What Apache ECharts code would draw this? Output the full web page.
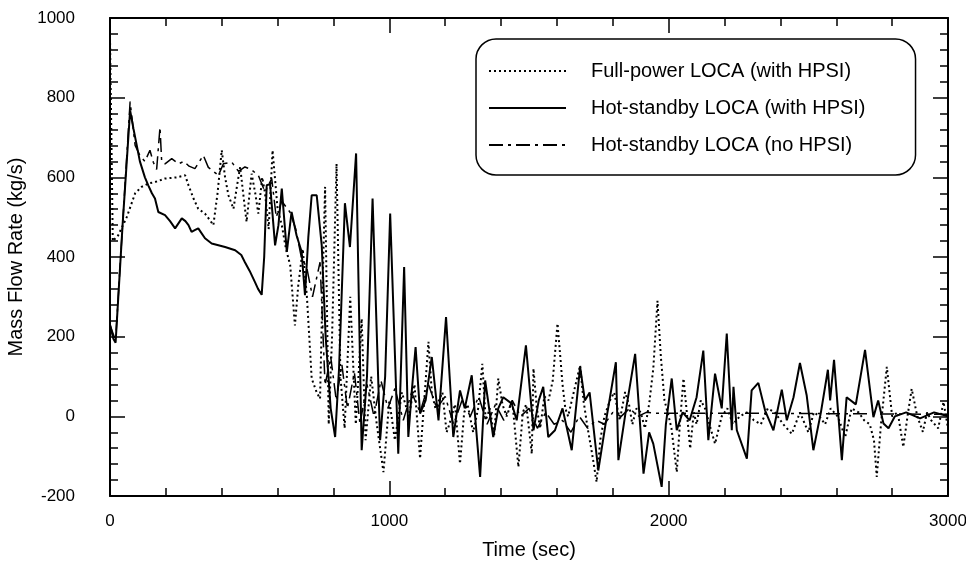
<!DOCTYPE html>
<html>
<head>
<meta charset="utf-8">
<script src="https://cdn.jsdelivr.net/npm/echarts@6/dist/echarts.min.js"></script>
<style>
  html, body { margin: 0; padding: 0; background: #fff; }
  #chart { width: 966px; height: 573px; }
</style>
</head>
<body>
<div id="chart"></div>
<script>
// series names
const seriesNames = [
  "Full-power LOCA (with HPSI)",
  "Hot-standby LOCA (with HPSI)",
  "Hot-standby LOCA (no HPSI)"
];

// [time (s), mass flow rate (kg/s)]
const fullPower = [
  [0, 950], [5, 700], [10, 440], [29, 454], [60, 500], [90, 560], [113, 576], [140, 585],
  [161, 588], [197, 597], [240, 600], [269, 605], [281, 580], [300, 545], [316, 521],
  [340, 509], [355, 495], [370, 480], [385, 560], [400, 668], [412, 600], [424, 555],
  [442, 521], [455, 580], [466, 626], [480, 540], [489, 488], [507, 609], [520, 560],
  [531, 509], [545, 600], [555, 560], [568, 470], [582, 668], [600, 520], [615, 480],
  [630, 420], [645, 380], [662, 228], [674, 329], [690, 420], [705, 300], [722, 95],
  [740, 60], [752, 44], [760, 300], [770, 576], [783, -20], [795, 200], [811, 634],
  [825, 100], [840, -30], [860, 300], [880, -20], [901, 245], [915, -60], [935, 100],
  [955, -20], [979, -140], [1000, 40], [1020, -60], [1045, 60], [1070, 0], [1090, 80],
  [1110, -106], [1125, 40], [1140, 187], [1152, 60], [1165, 20], [1190, 60], [1205, -40],
  [1215, -20], [1235, 30], [1253, -119], [1268, 10], [1280, 30], [1300, -40], [1318, 20],
  [1333, 132], [1345, -10], [1360, 20], [1375, -50], [1390, 95], [1405, 30], [1420, 0],
  [1440, 40], [1462, -127], [1478, 10], [1490, 30], [1510, -94], [1516, 120], [1528, 20],
  [1540, -30], [1555, 50], [1570, 40], [1585, 90], [1602, 233], [1612, 150], [1620, 80],
  [1630, 20], [1640, 0], [1660, 60], [1683, 128], [1695, 40], [1710, -30], [1725, -90],
  [1742, -165], [1755, -60], [1770, 0], [1790, 40], [1805, 60], [1825, -10], [1844, 61],
  [1858, 30], [1870, -20], [1885, 20], [1900, 10], [1915, -30], [1930, 30], [1945, 120],
  [1960, 290], [1972, 150], [1985, 40], [2000, 0], [2010, -30], [2029, -140], [2040, -20],
  [2053, 95], [2065, 10], [2077, -81], [2090, 10], [2100, -20], [2115, 40], [2130, 20],
  [2150, -30], [2166, -69], [2190, 0], [2210, 20], [2230, -20], [2255, 0], [2280, 10],
  [2305, -10], [2330, -20], [2355, 20], [2380, 10], [2410, -20], [2441, -44], [2470, 10],
  [2500, -40], [2520, 10], [2540, 0], [2560, -20], [2580, 20], [2605, 0], [2632, -52],
  [2655, 20], [2680, 10], [2700, -10], [2720, -20], [2735, -60], [2745, -152], [2760, -20],
  [2781, 124], [2800, 0], [2820, 10], [2840, -77], [2855, 0], [2870, 69], [2890, 0],
  [2910, -39], [2925, 10], [2940, -10], [2965, -30], [2984, 36], [3000, -30]
];

const hotStandbyHpsi = [
  [0, 230], [12, 195], [20, 185], [45, 480], [72, 768], [84, 722], [107, 640], [125, 600],
  [137, 580], [150, 560], [161, 547], [173, 513], [197, 505], [215, 490], [233, 472],
  [257, 497], [270, 490], [281, 480], [292, 463], [305, 468], [316, 472], [340, 447],
  [364, 434], [412, 425], [448, 417], [470, 405], [483, 387], [500, 365], [519, 337],
  [530, 320], [543, 305], [552, 400], [561, 580], [573, 583], [591, 429], [603, 480],
  [615, 572], [633, 413], [650, 513], [668, 454], [686, 413], [698, 304], [710, 450],
  [722, 555], [740, 555], [758, 429], [772, 200], [790, 20], [806, -52], [820, 120],
  [841, 535], [859, 425], [881, 660], [901, -85], [920, 100], [940, 547], [967, -60],
  [985, 100], [1003, 509], [1032, -94], [1053, 375], [1068, -52], [1080, 60], [1094, 174],
  [1110, 7], [1130, 40], [1152, 149], [1176, -10], [1203, 249], [1229, -52], [1253, 65],
  [1270, 20], [1295, 103], [1325, -152], [1343, 90], [1372, -52], [1390, 20], [1408, 48],
  [1438, 32], [1456, -10], [1489, 178], [1516, -35], [1535, 40], [1551, 74], [1569, -52],
  [1593, -35], [1620, 20], [1653, -85], [1683, 124], [1700, 40], [1717, 60], [1748, -136],
  [1778, -2], [1811, 136], [1820, -110], [1848, 20], [1880, 157], [1910, -144], [1930, -40],
  [1945, -69], [1975, -177], [1990, -20], [2011, 95], [2029, -35], [2050, 10], [2075, -10],
  [2100, 48], [2124, 165], [2142, -60], [2166, 107], [2190, 20], [2208, 208], [2226, -35],
  [2232, 74], [2244, -35], [2280, -106], [2297, 65], [2321, 84], [2345, 15], [2375, -35],
  [2405, 67], [2423, -10], [2447, 48], [2470, 134], [2494, 53], [2518, -85], [2545, 10],
  [2570, 117], [2578, 40], [2592, 142], [2620, -110], [2637, 48], [2670, 30], [2703, 167],
  [2733, -2], [2750, 40], [2769, -18], [2787, -30], [2810, 0], [2850, 10], [2900, -5],
  [2950, 10], [3000, 0]
];

const hotStandbyNoHpsi = [
  [0, 230], [20, 190], [45, 480], [72, 790], [90, 680], [107, 655], [125, 640], [143, 668],
  [155, 638], [167, 620], [179, 726], [185, 640], [197, 634], [221, 647], [245, 634],
  [265, 640], [283, 628], [304, 622], [334, 655], [352, 625], [370, 615], [388, 605],
  [406, 634], [436, 638], [460, 615], [483, 626], [505, 620], [531, 605], [555, 563],
  [579, 597], [595, 500], [615, 540], [644, 513], [665, 470], [686, 396], [704, 375],
  [725, 300], [752, 387], [770, 78], [790, 150], [810, 40], [830, 130], [850, 20],
  [875, 110], [895, -20], [920, 80], [945, 0], [970, 90], [995, 20], [1020, 70],
  [1050, -10], [1080, 60], [1110, 10], [1140, 80], [1170, 20], [1200, 50], [1230, -20],
  [1260, 40], [1290, 0], [1320, 50], [1350, -20], [1380, 30], [1410, -10], [1440, 40],
  [1470, 0], [1500, 20], [1530, -30], [1560, 10], [1590, -20], [1620, -10], [1650, -40],
  [1680, 0], [1710, -30], [1740, -10], [1770, -20], [1800, 10], [1830, 0], [1860, 20],
  [1890, 0], [1920, 10], [1950, 8], [2200, 8], [2500, 7], [2800, 6], [3000, 5]
];

const FONT = "'Liberation Sans', Arial, Helvetica, sans-serif";

let myChart = echarts.init(document.getElementById("chart"));

const frameLine = { show: true, onZero: false, lineStyle: { color: "#000", width: 2 } };
const majorTick = { show: true, inside: true, length: 15, lineStyle: { color: "#000", width: 1.5 } };
const minorTick = { show: true, splitNumber: 5, length: 8, lineStyle: { color: "#000", width: 1.5 } };
const plainNumber = v => String(v);

let option = {
  animation: false,
  backgroundColor: "#fff",
  grid: { left: 110, right: 18, top: 18, bottom: 77, containLabel: false, outerBoundsMode: "none" },
  legend: {
    orient: "vertical",
    left: 476,
    top: 39,
    data: seriesNames,
    itemWidth: 77,
    itemHeight: 14,
    itemGap: 15,
    padding: [21, 50, 19, 12],
    borderColor: "#000",
    borderWidth: 1.5,
    borderRadius: 20,
    selectedMode: false,
    itemStyle: { opacity: 0 },
    textStyle: {
      fontFamily: FONT,
      fontSize: 20,
      lineHeight: 22,
      color: "#000",
      padding: [0, 0, 0, 20]
    }
  },
  xAxis: [
    {
      type: "value",
      min: 0,
      max: 3000,
      interval: 1000,
      name: "Time (sec)",
      nameLocation: "middle",
      nameGap: 44,
      nameTextStyle: { fontFamily: FONT, fontSize: 20, color: "#000" },
      axisLine: frameLine,
      axisTick: majorTick,
      minorTick: minorTick,
      splitLine: { show: false },
      axisLabel: { fontFamily: FONT, fontSize: 17, color: "#000", margin: 17, formatter: plainNumber }
    },
    {
      type: "value",
      position: "top",
      min: 0,
      max: 3000,
      interval: 1000,
      axisLine: frameLine,
      axisTick: majorTick,
      minorTick: minorTick,
      splitLine: { show: false },
      axisLabel: { show: false }
    }
  ],
  yAxis: [
    {
      type: "value",
      min: -200,
      max: 1000,
      interval: 200,
      name: "Mass Flow Rate (kg/s)",
      nameLocation: "middle",
      nameGap: 80,
      nameTextStyle: { fontFamily: FONT, fontSize: 20, color: "#000" },
      axisLine: frameLine,
      axisTick: majorTick,
      minorTick: minorTick,
      splitLine: { show: false },
      axisLabel: { fontFamily: FONT, fontSize: 17, color: "#000", margin: 35, formatter: plainNumber }
    },
    {
      type: "value",
      position: "right",
      min: -200,
      max: 1000,
      interval: 200,
      axisLine: frameLine,
      axisTick: majorTick,
      minorTick: minorTick,
      splitLine: { show: false },
      axisLabel: { show: false }
    }
  ],
  series: [
    {
      name: seriesNames[0],
      type: "line",
      data: fullPower,
      symbol: "none",
      lineStyle: { color: "#000", width: 2, type: [2, 3] },
      itemStyle: { color: "#000" },
      z: 3
    },
    {
      name: seriesNames[1],
      type: "line",
      data: hotStandbyHpsi,
      symbol: "none",
      lineStyle: { color: "#000", width: 2, type: "solid" },
      itemStyle: { color: "#000" },
      z: 4
    },
    {
      name: seriesNames[2],
      type: "line",
      data: hotStandbyNoHpsi,
      symbol: "none",
      lineStyle: { color: "#000", width: 1.5, type: [14, 5, 3, 5] },
      itemStyle: { color: "#000" },
      z: 2
    }
  ]
};
myChart.setOption(option);
</script>
</body>
</html>
